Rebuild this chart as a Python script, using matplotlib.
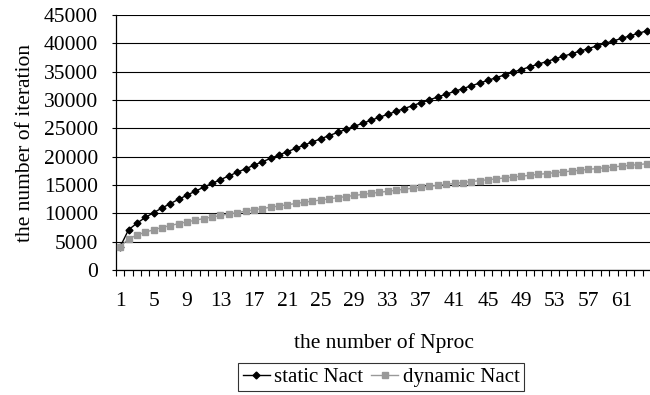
import matplotlib
matplotlib.use("Agg")
import matplotlib.pyplot as plt
import numpy as np

plt.rcParams["font.family"] = ["Liberation Serif", "DejaVu Serif"]

nproc = list(range(1, 65))
tick_labels = [str(n) for n in range(1, 65, 4)]

static_nact = [
    4100, 7100, 8250, 9270, 10120, 10940, 11720, 12480, 13210, 13920,
    14610, 15290, 15950, 16600, 17240, 17870, 18490, 19100, 19700, 20300,
    20880, 21460, 22040, 22600, 23160, 23720, 24270, 24810, 25360, 25890,
    26420, 26950, 27470, 27990, 28500, 29020, 29520, 30030, 30530, 31030,
    31520, 32010, 32500, 32990, 33470, 33950, 34430, 34910, 35380, 35850,
    36320, 36780, 37250, 37710, 38170, 38620, 39080, 39530, 39980, 40430,
    40880, 41330, 41770, 42210,
]
dynamic_nact = [
    4100, 5500, 6150, 6680, 7100, 7500, 7850, 8180, 8500, 8790,
    9080, 9360, 9620, 9880, 10130, 10380, 10620, 10850, 11080, 11300,
    11520, 11740, 11950, 12160, 12360, 12560, 12760, 12960, 13150, 13340,
    13520, 13710, 13890, 14070, 14250, 14430, 14600, 14770, 14940, 15110,
    15280, 15440, 15610, 15770, 15930, 16090, 16250, 16400, 16560, 16710,
    16870, 17020, 17170, 17320, 17470, 17610, 17760, 17900, 18050, 18190,
    18330, 18470, 18610, 18750,
]

FS = 15.5

fig = plt.figure(figsize=(6.5, 3.95), dpi=100)
ax = fig.add_axes([116 / 650, 125 / 395, 535 / 650, 255 / 395])

x = np.array(nproc)
ax.plot(x, static_nact, color="black", lw=1.0, marker="D", ms=3.5,
        label="static Nact", zorder=3)
ax.plot(x, dynamic_nact, color="#999999", lw=1.0, marker="s", ms=4.5,
        label="dynamic Nact", zorder=4)

ax.set_xlim(0.5, 64.5)
ax.set_ylim(0, 45000)
ax.set_yticks(np.arange(0, 45001, 5000))
ax.yaxis.grid(True, color="black", lw=0.8)
ax.set_axisbelow(True)

ax.set_xticks(np.arange(1, 65, 4))
ax.set_xticklabels(tick_labels)
ax.set_xticks(np.arange(0.5, 65, 1), minor=True)
ax.tick_params(axis="x", which="major", length=0, pad=16, labelsize=FS)
ax.tick_params(axis="x", which="minor", length=4, width=0.8, direction="out")
ax.tick_params(axis="y", length=3, width=0.8, pad=10, labelsize=FS)

for s in ("top", "right"):
    ax.spines[s].set_visible(False)
for s in ("left", "bottom"):
    ax.spines[s].set_color("black")
    ax.spines[s].set_linewidth(0.9)

ax.set_xlabel("the number of Nproc", fontsize=FS, labelpad=16)
ax.set_ylabel("the number of iteration", fontsize=FS, labelpad=6)

leg = fig.legend(loc="center", bbox_to_anchor=(381 / 650, 1 - 377 / 395),
                 ncol=2, fontsize=15, frameon=True, fancybox=False,
                 handlelength=1.3, handletextpad=0.2, columnspacing=0.4,
                 borderpad=0.2)
leg.get_frame().set_edgecolor("black")
leg.get_frame().set_linewidth(0.8)

fig.savefig("out.png", dpi=100)
